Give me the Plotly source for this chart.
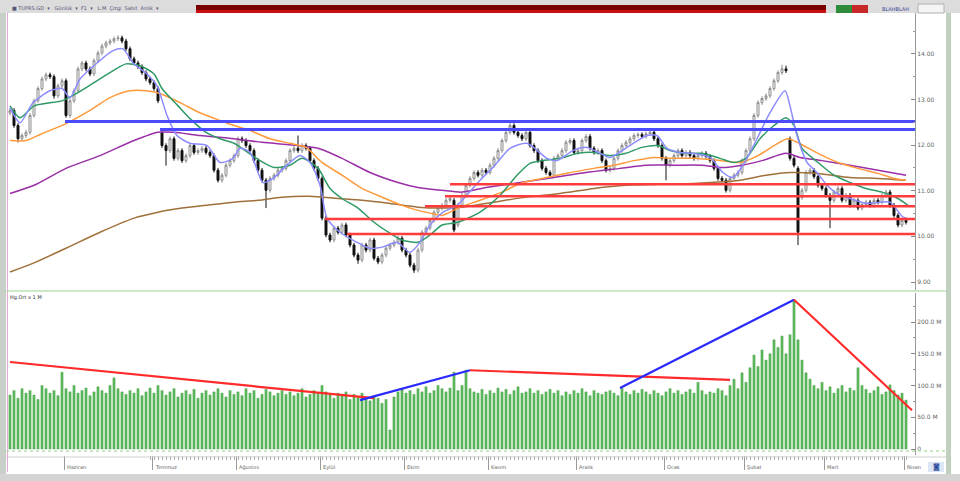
import plotly.graph_objects as go

# ---------------- data ----------------
OPEN = [12.70,12.76,12.43,12.14,12.21,12.28,12.65,12.97,13.24,13.45,
        13.54,13.50,13.08,13.30,13.41,12.65,12.97,13.19,13.67,13.80,
        13.67,13.56,13.85,14.02,14.17,14.24,14.28,14.33,14.35,14.28,
        14.11,13.89,13.80,13.72,13.59,13.45,13.37,13.24,12.28,11.99,
        11.88,12.14,11.71,11.88,11.66,11.77,11.99,11.84,11.88,11.93,
        11.84,11.77,11.45,11.23,11.34,11.56,11.66,11.77,12.14,12.10,
        11.99,11.88,11.66,11.45,11.23,11.01,11.27,11.34,11.45,11.49,
        11.66,11.88,11.93,11.88,11.99,11.93,11.66,11.49,11.27,10.40,
        10.03,9.92,10.18,10.09,10.25,10.03,9.81,9.59,9.48,9.81,
        9.70,9.92,9.52,9.44,9.59,9.74,9.81,9.87,9.96,9.70,
        9.59,9.37,9.26,9.70,10.09,10.18,10.35,10.53,10.62,10.68,
        10.79,10.79,10.25,10.68,10.90,11.12,11.27,11.40,11.34,11.45,
        11.40,11.56,11.71,11.88,12.10,12.28,12.43,12.28,12.21,12.14,
        12.28,11.99,11.88,11.66,11.49,11.40,11.34,11.71,11.77,11.88,
        12.06,12.10,11.84,11.88,12.10,12.19,11.93,11.84,11.88,11.66,
        11.45,11.49,11.71,11.88,11.99,12.06,12.14,12.21,12.23,12.19,
        12.25,12.28,12.14,11.99,11.71,11.56,11.66,11.77,11.88,11.77,
        11.84,11.77,11.71,11.77,11.82,11.75,11.66,11.49,11.27,11.23,
        11.01,11.27,11.34,11.40,11.66,11.88,12.14,12.65,12.93,13.02,
        13.08,13.24,13.41,13.59,13.67,12.14,11.71,11.49,10.85,11.01,
        11.40,11.45,11.31,11.12,11.05,10.90,10.79,10.97,11.05,10.79,
        10.90,10.68,10.79,10.62,10.70,10.75,10.68,10.79,10.75,10.90,
        10.97,10.68,10.46,10.25,10.35]
CLOSE = [12.76,12.43,12.14,12.21,12.28,12.65,12.97,13.24,13.45,13.54,
         13.50,13.08,13.30,13.41,12.65,12.97,13.19,13.67,13.80,13.67,
         13.56,13.85,14.02,14.17,14.24,14.28,14.33,14.35,14.28,14.11,
         13.89,13.80,13.72,13.59,13.45,13.37,13.24,12.97,11.99,11.88,
         12.14,11.71,11.88,11.66,11.77,11.99,11.84,11.88,11.93,11.84,
         11.77,11.45,11.23,11.34,11.56,11.66,11.77,12.14,12.10,11.99,
         11.88,11.66,11.45,11.23,11.01,11.27,11.34,11.45,11.49,11.66,
         11.88,11.93,11.88,11.99,11.93,11.66,11.49,11.27,10.40,10.03,
         9.92,10.18,10.09,10.25,10.03,9.81,9.59,9.48,9.81,9.70,
         9.92,9.52,9.44,9.59,9.74,9.81,9.87,9.96,9.70,9.59,
         9.37,9.26,9.70,10.09,10.18,10.35,10.53,10.62,10.68,10.79,
         10.83,10.14,10.68,10.90,11.12,11.27,11.40,11.34,11.45,11.40,
         11.56,11.71,11.88,12.10,12.28,12.43,12.28,12.21,12.14,12.28,
         11.99,11.88,11.66,11.49,11.40,11.34,11.71,11.77,11.88,12.06,
         12.10,11.84,11.88,12.10,12.19,11.93,11.84,11.88,11.66,11.45,
         11.49,11.71,11.88,11.99,12.06,12.14,12.21,12.23,12.19,12.25,
         12.28,12.14,11.99,11.71,11.56,11.66,11.77,11.88,11.77,11.84,
         11.77,11.71,11.77,11.82,11.75,11.66,11.49,11.27,11.23,11.01,
         11.27,11.34,11.40,11.66,11.88,12.14,12.65,12.93,13.02,13.08,
         13.24,13.41,13.59,13.67,13.63,11.71,11.56,10.09,11.01,11.40,
         11.45,11.31,11.12,11.05,10.90,10.79,10.97,11.05,10.79,10.90,
         10.68,10.79,10.62,10.70,10.75,10.68,10.79,10.75,10.90,10.97,
         10.68,10.46,10.25,10.35,10.31]
HIGH = [12.81,12.81,12.48,12.26,12.33,12.70,13.02,13.29,13.50,13.59,
        13.59,13.55,13.35,13.46,13.46,13.02,13.24,13.72,13.85,13.85,
        13.72,13.90,14.07,14.22,14.29,14.33,14.38,14.41,14.40,14.33,
        14.16,13.94,13.85,13.77,13.64,13.50,13.42,13.29,12.33,12.04,
        12.19,12.19,11.93,11.93,11.82,12.04,12.04,11.93,11.98,11.98,
        11.89,11.82,11.50,11.39,11.61,11.71,11.82,12.19,12.19,12.15,
        12.04,11.93,11.71,11.50,11.28,11.32,11.39,11.50,11.54,11.71,
        11.93,11.98,12.21,12.04,12.04,11.98,11.71,11.54,11.32,10.45,
        10.08,10.23,10.23,10.30,10.30,10.08,9.86,9.64,9.86,9.86,
        9.97,9.97,9.57,9.64,9.79,9.86,9.92,10.01,10.01,9.75,
        9.64,9.42,9.75,10.14,10.23,10.40,10.58,10.67,10.73,10.84,
        10.88,10.84,10.73,10.95,11.17,11.32,11.45,11.45,11.50,11.50,
        11.61,11.76,11.93,12.15,12.33,12.49,12.48,12.33,12.26,12.33,
        12.33,12.04,11.93,11.71,11.54,11.45,11.76,11.82,11.93,12.11,
        12.15,12.15,11.93,12.15,12.24,12.24,11.98,11.93,11.93,11.71,
        11.54,11.76,11.93,12.04,12.11,12.19,12.26,12.28,12.28,12.30,
        12.33,12.33,12.19,12.04,11.76,11.71,11.82,11.93,11.93,11.89,
        11.89,11.82,11.82,11.87,11.87,11.80,11.71,11.54,11.32,11.28,
        11.32,11.39,11.45,11.71,11.93,12.19,12.70,12.98,13.07,13.13,
        13.29,13.46,13.64,13.76,13.74,12.19,11.76,11.54,11.06,11.45,
        11.50,11.50,11.36,11.17,11.10,10.95,11.02,11.10,11.10,10.95,
        10.95,10.84,10.84,10.75,10.80,10.80,10.84,10.84,10.95,11.02,
        11.02,10.73,10.51,10.40,10.40]
LOW = [12.65,12.38,12.06,12.09,12.16,12.23,12.60,12.92,13.19,13.40,
       13.45,13.02,13.03,13.25,12.60,12.60,12.92,13.14,13.62,13.62,
       13.51,13.51,13.80,13.97,14.12,14.19,14.23,14.28,14.23,14.06,
       13.84,13.75,13.67,13.54,13.40,13.32,13.19,12.92,11.94,11.55,
       11.83,11.66,11.66,11.61,11.61,11.72,11.79,11.79,11.83,11.79,
       11.72,11.40,11.18,11.18,11.29,11.51,11.61,11.72,12.05,11.94,
       11.83,11.61,11.40,11.18,10.62,10.96,11.22,11.29,11.40,11.44,
       11.61,11.83,11.83,11.83,11.88,11.61,11.44,11.22,10.35,9.98,
       9.87,9.87,10.04,10.04,9.98,9.76,9.54,9.40,9.43,9.65,
       9.65,9.47,9.39,9.39,9.54,9.69,9.76,9.82,9.65,9.54,
       9.32,9.20,9.21,9.65,10.04,10.13,10.30,10.48,10.57,10.63,
       10.74,10.09,10.20,10.63,10.85,11.07,11.22,11.29,11.29,11.35,
       11.35,11.51,11.66,11.83,12.05,12.23,12.23,12.16,12.09,12.09,
       11.94,11.83,11.61,11.44,11.35,11.29,11.29,11.66,11.72,11.83,
       12.01,11.79,11.79,11.83,12.05,11.88,11.79,11.79,11.61,11.40,
       11.40,11.44,11.66,11.83,11.94,12.01,12.09,12.16,12.14,12.14,
       12.20,12.09,11.94,11.66,11.23,11.51,11.61,11.72,11.72,11.72,
       11.72,11.66,11.66,11.72,11.70,11.61,11.44,11.22,11.18,10.96,
       10.96,11.22,11.29,11.35,11.61,11.83,12.09,12.60,12.88,12.97,
       13.03,13.19,13.36,13.54,13.58,11.66,11.51,9.81,10.80,10.96,
       11.35,11.26,11.07,11.00,10.85,10.18,10.74,10.92,10.74,10.74,
       10.63,10.63,10.57,10.57,10.65,10.63,10.63,10.70,10.70,10.85,
       10.63,10.41,10.20,10.20,10.26]
VOLUME = [85,92,80,95,88,92,85,78,100,95,
          88,92,84,121,95,90,100,88,92,96,
          84,90,98,92,88,100,112,95,90,86,
          92,88,95,84,90,96,88,100,92,85,
          90,95,82,88,92,86,94,80,88,92,
          85,90,95,88,82,92,86,90,84,95,
          88,92,80,86,94,90,84,88,92,86,
          90,84,88,95,82,86,92,88,100,90,
          85,80,88,84,90,78,86,82,88,80,
          76,84,80,72,78,30,82,90,95,88,
          92,86,95,90,98,88,92,100,95,90,
          96,121,92,100,124,95,90,88,94,86,
          92,88,96,90,94,86,92,98,88,90,
          95,88,92,86,90,94,88,92,84,90,
          86,92,88,95,90,84,92,88,86,90,
          92,88,84,96,90,86,92,88,94,90,
          86,92,88,84,90,95,88,92,86,90,
          94,88,105,92,86,90,88,95,92,84,
          100,110,95,120,105,128,148,130,156,140,
          150,172,160,178,150,180,235,172,140,120,
          110,100,95,105,92,98,88,95,100,90,
          96,92,128,100,94,88,92,98,86,90,
          101,92,85,88,77]
DAYS = list(range(len(CLOSE)))

# moving averages (session index, price)
MA_FAST_X = [0,2.5,5.75,10,13,15,17.5,21.75,25.75,28.25,30.75,34.25,36.75,39.25,41.75,45,49.25,52.5,55.75,57.5,
             60,63.25,65.75,69.25,72.5,75,77.5,79.25,82.5,86.75,90,93.25,96.75,100,102.5,105,108.25,111.75,117.5,121.25,
             125,129.25,134.25,136.75,140.75,144.25,147.5,150,154.25,159.25,161.75,164.25,167.5,170.75,175,178.25,180.75,183.25,186.75,190,
             193.75,195,196.75,199.25,201.75,204.25,206.75,210,214.25,217.5,220,223.25,224.25]
MA_FAST_Y = [12.82,12.49,12.93,13.19,13.24,13.04,13.45,13.80,14.07,14.11,13.80,13.56,13.30,12.65,12.21,12.04,11.99,11.62,11.71,11.93,
             11.84,11.18,11.27,11.56,11.77,11.62,11.12,10.40,10.09,9.87,9.74,9.77,9.87,9.65,9.87,10.25,10.53,10.68,11.23,11.56,
             11.93,12.04,11.71,11.66,11.88,11.95,11.82,11.73,11.95,12.21,12.21,11.93,11.84,11.82,11.73,11.40,11.29,11.56,12.14,12.71,
             13.19,12.86,12.21,11.62,11.40,11.12,10.94,10.83,10.72,10.75,10.75,10.42,10.40]
MA_GREEN_X = [0,2.5,6,10,13,17,21,25,29,32.5,36,38,42,45,49,52.5,56,58,62.5,66,
              70,73,77,80,83,87,91,95,98,102,105,108,112,117.5,122.5,126.75,130,133,137.5,142,
              146,150,154,158,162,165,169,173,177.5,181,184,187.5,191,194,196,198,202,206,210,214,
              218,222,224.5]
MA_GREEN_Y = [12.86,12.60,12.86,12.93,12.97,13.15,13.37,13.59,13.78,13.74,13.56,13.24,12.86,12.58,12.28,12.14,12.04,11.93,11.66,11.51,
              11.56,11.71,11.49,11.05,10.83,10.62,10.31,10.07,9.92,9.87,10.03,10.25,10.31,10.53,10.90,11.34,11.60,11.66,11.71,11.82,
              11.84,11.77,11.82,11.95,11.99,11.88,11.82,11.82,11.71,11.62,11.71,12.14,12.43,12.60,12.43,11.93,11.62,11.34,11.18,11.05,
              10.97,10.83,10.68]
MA_ORANGE_X = [0,4,8,14,20,25,30,34,37.5,42.5,47.5,52.5,56,60,65,70,74,78,83,88,
               93,98,102,105,108,112.5,117.5,123,127.5,133,139,146,151,156,161,166,171,178,182.5,187,
               191,194.5,197.5,202,207,212,217,221,224]
MA_ORANGE_Y = [12.10,12.10,12.25,12.47,12.76,13.04,13.19,13.19,13.13,12.93,12.71,12.54,12.43,12.32,12.14,12.04,11.95,11.62,11.34,11.05,
               10.86,10.68,10.57,10.51,10.46,10.64,10.79,10.97,11.16,11.27,11.38,11.49,11.56,11.66,11.73,11.71,11.71,11.66,11.62,11.77,
               11.99,12.14,12.03,11.82,11.62,11.49,11.38,11.27,11.23]
MA_PURPLE_X = [0,6,14,22.5,31,37,41,47.5,56,63,72,77,83,90,97,102,108,113,119,127.5,
               136,144,152.5,159,166,173,178,183,188,194,197.5,203,210,217,224]
MA_PURPLE_Y = [10.94,11.12,11.49,11.77,12.10,12.28,12.28,12.21,12.14,12.06,11.99,11.93,11.71,11.40,11.18,11.07,11.01,10.97,11.07,11.18,
               11.29,11.40,11.49,11.56,11.56,11.56,11.51,11.56,11.66,11.82,11.73,11.66,11.56,11.45,11.34]
MA_BROWN_X = [0,6,14,22.5,31,37,43,49,56,62,68,75,82,88,95,102,108,113,121,129,
              137.5,146,154,162.5,171,175,182.5,189,195,202,210,217,224]
MA_BROWN_Y = [9.22,9.42,9.74,10.09,10.40,10.53,10.62,10.68,10.75,10.79,10.86,10.88,10.83,10.79,10.72,10.64,10.62,10.64,10.75,10.86,
              10.94,11.05,11.12,11.14,11.16,11.18,11.23,11.34,11.40,11.38,11.29,11.27,11.23]

# horizontal levels (price, first session)
BLUE_LEVELS = [12.52, 12.34]
BLUE_START = [13.75, 37.5]
RED_LEVELS = [11.14, 10.88, 10.66, 10.38, 10.05]
RED_START = [110, 108.75, 103.75, 78.75, 84.25]

# volume trend lines (session0, vol0, session1, vol1, colour)
VOL_TRENDS = [(0, 137, 91, 80, "#ff2a2a"),
              (87.5, 77, 115, 124, "#2a2aff"),
              (115, 124, 180, 109, "#ff2a2a"),
              (152.5, 96, 196, 235, "#2a2aff"),
              (196, 235, 225.5, 61, "#ff2a2a")]

MONTH_BOUNDS = [13.5, 35.5, 56.5, 77.5, 98.5, 119.5, 141.5, 163.5, 183.5, 203.5, 223.5]
MONTH_LABELS = ["Haziran", "Temmuz", "Ağustos", "Eylül", "Ekim", "Kasım",
                "Aralık", "Ocak", "Şubat", "Mart", "Nisan"]
PRICE_TICKS = [9, 10, 11, 12, 13, 14]
PRICE_LABELS = ["9.00", "10.00", "11.00", "12.00", "13.00", "14.00"]
PRICE_MINOR = [9.5, 10.5, 11.5, 12.5, 13.5, 14.5]
VOL_TICKS = [0, 50, 100, 150, 200]
VOL_LABELS = ["0", "50.0 M", "100.0 M", "150.0 M", "200.0 M"]

X_RANGE = [-0.5, 226.25]
PRICE_RANGE = [8.825, 14.895]
VOL_RANGE = [-9.45, 245.7]

# ---------------- figure ----------------
W, H = 960, 481
def fx(p):
    return p / W
def fy(p):
    return 1 - p / H

fig = go.Figure()

fig.add_trace(go.Candlestick(
    x=DAYS, open=OPEN, high=HIGH, low=LOW, close=CLOSE,
    xaxis="x", yaxis="y", whiskerwidth=0,
    increasing=dict(line=dict(color="#8c8c8c", width=1), fillcolor="#ffffff"),
    decreasing=dict(line=dict(color="#111111", width=1), fillcolor="#111111"),
    showlegend=False, hoverinfo="skip"))

for xs, ys, col in [(MA_BROWN_X, MA_BROWN_Y, "#a0703a"),
                    (MA_PURPLE_X, MA_PURPLE_Y, "#9a2fa8"),
                    (MA_ORANGE_X, MA_ORANGE_Y, "#ff9a3c"),
                    (MA_GREEN_X, MA_GREEN_Y, "#2f9a66"),
                    (MA_FAST_X, MA_FAST_Y, "#8c8cff")]:
    fig.add_trace(go.Scatter(x=xs, y=ys, mode="lines", xaxis="x", yaxis="y",
                             line=dict(color=col, width=1.5, shape="spline", smoothing=0.7),
                             showlegend=False, hoverinfo="skip"))

for lvl, st in zip(BLUE_LEVELS, BLUE_START):
    fig.add_trace(go.Scatter(x=[st, X_RANGE[1]], y=[lvl, lvl], mode="lines", xaxis="x", yaxis="y",
                             line=dict(color="#4a4aff", width=3), showlegend=False, hoverinfo="skip"))
for lvl, st in zip(RED_LEVELS, RED_START):
    fig.add_trace(go.Scatter(x=[st, X_RANGE[1]], y=[lvl, lvl], mode="lines", xaxis="x", yaxis="y",
                             line=dict(color="#ff3b3b", width=2.5), showlegend=False, hoverinfo="skip"))

fig.add_trace(go.Bar(x=DAYS, y=VOLUME, xaxis="x2", yaxis="y2", width=0.55,
                     marker=dict(color="#5dbb5d", line=dict(color="#3f9a3f", width=0.4)),
                     showlegend=False, hoverinfo="skip"))
for x0, v0, x1, v1, col in VOL_TRENDS:
    fig.add_trace(go.Scatter(x=[x0, x1], y=[v0, v1], mode="lines", xaxis="x2", yaxis="y2",
                             line=dict(color=col, width=2.2), showlegend=False, hoverinfo="skip"))

tickfont = dict(family="DejaVu Sans", size=6, color="#666666")
xdom = [fx(8), fx(915)]

shapes = [
    # window frame pieces
    dict(type="rect", xref="paper", yref="paper", x0=0, x1=1, y0=fy(13), y1=1,
         fillcolor="#dcdcdc", line=dict(width=0), layer="below"),
    dict(type="rect", xref="paper", yref="paper", x0=fx(196), x1=fx(826), y0=fy(13), y1=fy(5),
         fillcolor="#7a0000", line=dict(width=0)),
    dict(type="rect", xref="paper", yref="paper", x0=fx(196), x1=fx(826), y0=fy(13), y1=fy(10),
         fillcolor="#c81010", line=dict(width=0)),
    dict(type="rect", xref="paper", yref="paper", x0=fx(836), x1=fx(852), y0=fy(13), y1=fy(5),
         fillcolor="#2e8b3a", line=dict(width=0)),
    dict(type="rect", xref="paper", yref="paper", x0=fx(852), x1=fx(868), y0=fy(13), y1=fy(5),
         fillcolor="#c82828", line=dict(width=0)),
    dict(type="rect", xref="paper", yref="paper", x0=fx(918), x1=fx(944), y0=fy(13), y1=fy(4),
         fillcolor="#f4f4f4", line=dict(width=1, color="#b0b0b0")),
    dict(type="rect", xref="paper", yref="paper", x0=0, x1=fx(6), y0=fy(474), y1=fy(13),
         fillcolor="#c8cec8", line=dict(width=0)),
    dict(type="rect", xref="paper", yref="paper", x0=fx(946), x1=fx(951), y0=fy(474), y1=fy(13),
         fillcolor="#bfd0bf", line=dict(width=0)),
    dict(type="rect", xref="paper", yref="paper", x0=0, x1=1, y0=0, y1=fy(474),
         fillcolor="#d4d4d4", line=dict(width=0)),
    dict(type="line", xref="paper", yref="paper", x0=fx(7.5), x1=fx(7.5), y0=fy(472), y1=fy(13),
         line=dict(color="#e6a6d6", width=1)),
    # panel separators
    dict(type="line", xref="paper", yref="paper", x0=fx(6), x1=fx(946), y0=fy(291), y1=fy(291),
         line=dict(color="#b8e2b0", width=1.5)),
    dict(type="line", xref="paper", yref="paper", x0=fx(6), x1=fx(946), y0=fy(451), y1=fy(451),
         line=dict(color="#b8e2b0", width=1.5, dash="dot")),
    dict(type="line", xref="paper", yref="paper", x0=fx(6), x1=fx(946), y0=fy(457), y1=fy(457),
         line=dict(color="#d0d0d0", width=1)),
    dict(type="rect", xref="paper", yref="paper", x0=fx(928), x1=fx(944), y0=fy(472), y1=fy(462),
         fillcolor="#dde6f5", line=dict(width=0)),
]

annotations = [
    dict(text="■ TUPRS.GD  ▾   Günlük  ▾  F1  ▾   L.M  Çizgi  Sabit  Anlık  ▾", xref="paper", yref="paper",
         x=fx(10), y=fy(8), xanchor="left", yanchor="middle", showarrow=False,
         font=dict(family="DejaVu Sans", size=5, color="#555577")),
    dict(text="BLAHBLAH", xref="paper", yref="paper", x=fx(880), y=fy(9), xanchor="left", yanchor="middle",
         showarrow=False, font=dict(family="DejaVu Sans", size=5, color="#3a4a9a")),
    dict(text="Hg.Ort x 1 M", xref="paper", yref="paper", x=fx(8), y=fy(297), xanchor="left", yanchor="middle",
         showarrow=False, font=dict(family="DejaVu Sans", size=5, color="#333333")),
    dict(text="◙", xref="paper", yref="paper", x=fx(936), y=fy(467), xanchor="center", yanchor="middle",
         showarrow=False, font=dict(family="DejaVu Sans", size=7, color="#3050a0")),
]
for b, lab in zip(MONTH_BOUNDS, MONTH_LABELS):
    annotations.append(dict(text=lab, xref="x2", yref="paper", x=b, y=fy(467), xanchor="left",
                            yanchor="middle", xshift=1, showarrow=False,
                            font=dict(family="DejaVu Sans", size=5, color="#666666")))

fig.update_layout(
    width=W, height=H, margin=dict(l=0, r=0, t=0, b=0),
    paper_bgcolor="#ffffff", plot_bgcolor="#ffffff",
    showlegend=False, bargap=0.4,
    shapes=shapes, annotations=annotations,
    xaxis=dict(domain=xdom, range=X_RANGE, anchor="y", showticklabels=False, ticks="",
               showgrid=False, zeroline=False, showline=False, rangeslider=dict(visible=False)),
    yaxis=dict(domain=[fy(290), fy(13)], range=PRICE_RANGE, anchor="x", side="right",
               tickmode="array", tickvals=PRICE_TICKS, ticktext=PRICE_LABELS, ticks="inside",
               ticklen=4, tickcolor="#888888", tickfont=tickfont, showgrid=False, zeroline=False,
               showline=True, linecolor="#9a9a9a", linewidth=1,
               minor=dict(tickmode="array", tickvals=PRICE_MINOR, ticks="inside", ticklen=2,
                          tickcolor="#999999", showgrid=False)),
    xaxis2=dict(domain=xdom, range=X_RANGE, anchor="y2", tickmode="array", tickvals=MONTH_BOUNDS,
                ticktext=["" for _ in MONTH_BOUNDS], ticks="outside", ticklen=14, tickcolor="#999999",
                showgrid=False, zeroline=False, showline=False,
                minor=dict(tickmode="array", tickvals=DAYS[35:], ticks="outside", ticklen=4,
                           tickcolor="#aaaaaa", showgrid=False)),
    yaxis2=dict(domain=[fy(455), fy(293)], range=VOL_RANGE, anchor="x2", side="right",
                tickmode="array", tickvals=VOL_TICKS, ticktext=VOL_LABELS, ticks="inside",
                ticklen=4, tickcolor="#888888", tickfont=tickfont, showgrid=False, zeroline=False,
                showline=True, linecolor="#9a9a9a", linewidth=1,
                minor=dict(tickmode="array", tickvals=[25, 75, 125, 175, 225], ticks="inside", ticklen=2,
                           tickcolor="#999999", showgrid=False)),
)

fig.write_html("out.html", config={"displayModeBar": False, "staticPlot": True},
               post_script="document.body.style.margin='0';document.body.style.overflow='hidden';")
